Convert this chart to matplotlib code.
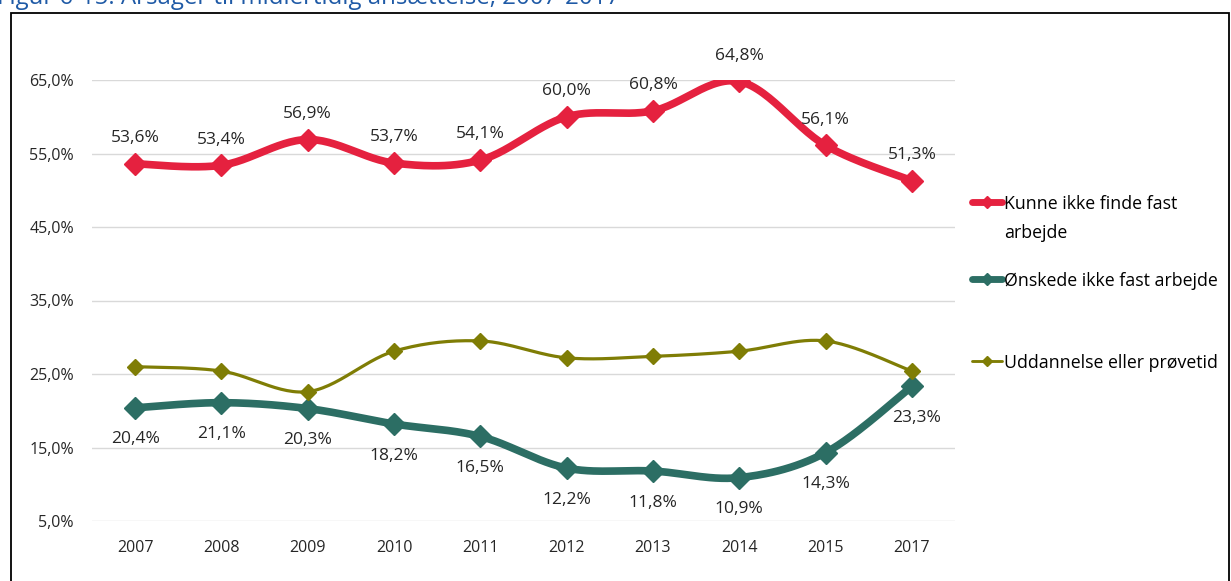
import matplotlib.pyplot as plt
import matplotlib.patches as patches
from matplotlib.lines import Line2D
import numpy as np

plt.rcParams['font.family'] = ['Open Sans', 'DejaVu Sans']

years = ['2007', '2008', '2009', '2010', '2011', '2012', '2013', '2014', '2015', '2017']
kunne = [53.6, 53.4, 56.9, 53.7, 54.1, 60.0, 60.8, 64.8, 56.1, 51.3]
onskede = [20.4, 21.1, 20.3, 18.2, 16.5, 12.2, 11.8, 10.9, 14.3, 23.3]
uddannelse = [26.0, 25.4, 22.6, 28.1, 29.5, 27.2, 27.4, 28.1, 29.5, 25.4]

labels = ['Kunne ikke finde fast\narbejde', 'Ønskede ikke fast arbejde', 'Uddannelse eller prøvetid']
colors = ['#E5213F', '#2C6E64', '#7F7D05']


def smooth(xs, ys, n=30):
    # excel-like smoothed line (catmull-rom bezier)
    p = np.column_stack([xs, ys]).astype(float)
    out = [p[0]]
    t = np.linspace(0, 1, n)[1:]
    for i in range(len(p) - 1):
        p0 = p[i - 1] if i > 0 else p[i]
        p3 = p[i + 2] if i + 2 < len(p) else p[i + 1]
        c1 = p[i] + (p[i + 1] - p0) / 6
        c2 = p[i + 1] - (p3 - p[i]) / 6
        seg = ((1 - t) ** 3)[:, None] * p[i] + (3 * (1 - t) ** 2 * t)[:, None] * c1 \
            + (3 * (1 - t) * t ** 2)[:, None] * c2 + (t ** 3)[:, None] * p[i + 1]
        out.extend(seg)
    out = np.array(out)
    return out[:, 0], out[:, 1]


W, H = 1231, 581
fig = plt.figure(figsize=(12.31, 5.81), dpi=100)
ax = fig.add_axes([92 / W, 60 / H, 863 / W, 441 / H])

x = np.arange(len(years))
styles = [(5.5, 11), (5.5, 11), (2.3, 8)]
for vals, col, (lw, ms) in zip([kunne, onskede, uddannelse], colors, styles):
    sx, sy = smooth(x, vals)
    ax.plot(sx, sy, color=col, lw=lw, solid_capstyle='round')
    ax.plot(x, vals, 'D', color=col, ms=ms, ls='none')

for i, v in enumerate(kunne):
    ax.text(i, v + 2.4, f'{v:.1f}%'.replace('.', ','), ha='center', va='bottom',
            fontsize=12.5, color='#262626', clip_on=False)
for i, v in enumerate(onskede):
    dx = 0.06 if i == len(onskede) - 1 else 0
    ax.text(i + dx, v - 3.2, f'{v:.1f}%'.replace('.', ','), ha='center', va='top',
            fontsize=12.5, color='#262626', clip_on=False)

ax.set_xlim(-0.5, 9.5)
ax.set_ylim(5, 65)
ax.set_yticks(np.arange(5, 66, 10))
ax.set_yticklabels([f'{t:.1f}%'.replace('.', ',') for t in np.arange(5, 66, 10)])
ax.set_xticks(x)
ax.set_xticklabels(years)
ax.tick_params(length=0, labelsize=11.5, colors='#262626')
ax.tick_params(axis='y', pad=13)
ax.tick_params(axis='x', pad=14)
ax.grid(axis='y', color='#D9D9D9', lw=1)
ax.set_axisbelow(True)
for s in ax.spines.values():
    s.set_visible(False)

# legend drawn by hand so the handle sits on the first text line
leg_y = [202, 279, 361]
for lab, col, (lw, ms), yp in zip(labels, colors, styles, leg_y):
    fy = 1 - yp / H
    fig.add_artist(Line2D([972 / W, 1002 / W], [fy, fy], color=col, lw=lw * 0.9,
                          solid_capstyle='round', transform=fig.transFigure))
    fig.add_artist(Line2D([987 / W], [fy], color=col, marker='D', ms=ms * 0.6,
                          transform=fig.transFigure))
    fig.text(1004 / W, fy + 7 / H, lab, fontsize=12.8, color='black', va='top', ha='left',
             linespacing=1.75)

fig.patches.append(patches.Rectangle((11 / W, -0.1), 1218 / W, 1.1 - 13 / H,
                                     transform=fig.transFigure, fill=False,
                                     edgecolor='black', lw=1.3))
fig.text(-3 / W, 1 - 4 / H, 'Figur 6-15: Årsager til midlertidig ansættelse, 2007-2017',
         color='#1F5AA6', fontsize=17.3, va='baseline', ha='left')

fig.savefig('out.png', dpi=100)
